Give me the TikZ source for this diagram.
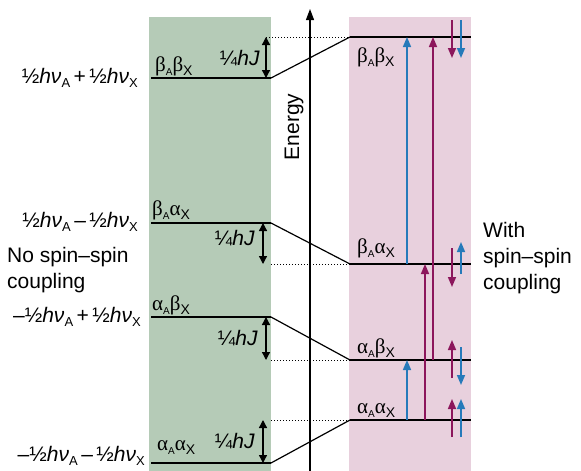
\documentclass[tikz,border=0pt]{standalone}
\usepackage{fontspec}
\setmainfont{Liberation Sans}
\newfontfamily\grk{Liberation Serif}
\usetikzlibrary{arrows.meta}

\definecolor{nocoupling}{RGB}{181,203,183}
\definecolor{withcoupling}{RGB}{232,208,221}
\definecolor{xblue}{RGB}{38,122,186}
\definecolor{apurple}{RGB}{140,22,92}

\newcommand{\spinpair}[2]{{\grk #1}\raisebox{-0.45ex}{\fontsize{10}{10}\selectfont A}{\grk #2}\raisebox{-0.4ex}{\fontsize{14}{14}\selectfont X}}
\newcommand{\hnu}[1]{\textit{hν}\raisebox{-0.45ex}{\fontsize{13}{13}\selectfont #1}}
\newcommand{\qhJ}{¼\textit{hJ}}

\begin{document}
\begin{tikzpicture}[x=1pt, y=-1pt,
        every node/.style={inner sep=0pt, font=\fontsize{21}{26}\selectfont},
        level/.style={line width=2.8pt},
        link/.style={line width=1.2pt},
        guide/.style={dotted, line width=1pt},
        gap/.style={{Triangle[length=8pt,width=8pt]}-{Triangle[length=8pt,width=8pt]}, line width=1.3pt},
        trans/.style={-{Triangle[length=10pt,width=8pt]}, line width=1.6pt},
        spinarrow/.style={-{Triangle[length=10pt,width=8pt]}, line width=1.6pt}]
        \useasboundingbox (0,0) rectangle (581,471);

        % Panele
        \fill[nocoupling] (149,17) rectangle (271,471);
        \fill[withcoupling] (349,17) rectangle (471,471);

        % Os energii
        \coordinate (e0) at (310,471);
        \coordinate (e1) at (310,9);
        \draw[-{Triangle[length=11pt,width=8pt]}, line width=1.2pt] (e0) -- (e1);
        \node[rotate=90] (energy) at (294,127) {Energy};

        % Poziomy: bez sprzezenia (L) i ze sprzezeniem (R)
        \foreach \name/\yl/\yr in {bb/78/37, ba/223/264, ab/317/360, aa/463/420}{
            \coordinate (\name L) at (271,\yl);
            \coordinate (\name R) at (350,\yr);
            \draw[level] (151,\yl) -- (\name L);
            \draw[level] (\name R) -- (471,\yr);
            \draw[link] (\name L) -- (\name R);
        }

        % Linie pomocnicze i przesuniecia 1/4 hJ
        \coordinate (g1) at (266,0);
        \coordinate (g2) at (263,0);
        \draw[guide] (g1 |- bbR) -- (bbR);
        \draw[guide] (baL |- baR) -- (baR);
        \draw[guide] (abL |- abR) -- (abR);
        \draw[guide] (aaL |- aaR) -- (aaR);
        \draw[gap] (g1 |- bbR) -- (g1 |- bbL);
        \draw[gap] (g2 |- baL) -- (g2 |- baR);
        \draw[gap] (g1 |- abL) -- (g1 |- abR);
        \draw[gap] (g2 |- aaR) -- (g2 |- aaL);
        \node[anchor=base east] (j1) at (260,65) {\qhJ};
        \node[anchor=base east] (j2) at (255,245) {\qhJ};
        \node[anchor=base east] (j3) at (258,345) {\qhJ};
        \node[anchor=base east] (j4) at (255,448) {\qhJ};

        % Etykiety stanow
        \node[anchor=base west] (bbl) at (155,71) {\spinpair{β}{β}};
        \node[anchor=base west] (bal) at (152,215) {\spinpair{β}{α}};
        \node[anchor=base west] (abl) at (152,310) {\spinpair{α}{β}};
        \node[anchor=base west] (aal) at (157,450) {\spinpair{α}{α}};
        \node[anchor=base west] (bbr) at (357,62) {\spinpair{β}{β}};
        \node[anchor=base west] (bar) at (357,253) {\spinpair{β}{α}};
        \node[anchor=base west] (abr) at (357,353) {\spinpair{α}{β}};
        \node[anchor=base west] (aar) at (357,413) {\spinpair{α}{α}};

        % Energie
        \node[anchor=base east] (E4) at (138,83) {½\hnu{A}\,+\,½\hnu{X}};
        \node[anchor=base east] (E3) at (138,227) {½\hnu{A}\,–\,½\hnu{X}};
        \node[anchor=base east] (E2) at (141,322) {–½\hnu{A}\,+\,½\hnu{X}};
        \node[anchor=base east] (E1) at (145,461) {–½\hnu{A}\,–\,½\hnu{X}};
        \node[anchor=base west, align=left] (nocoup) at (7,288) {No spin–spin\\coupling};
        \node[anchor=base west, align=left] (withcoup) at (483,289) {With\\spin–spin\\coupling};

        % Przejscia
        \coordinate (tx) at (407,0);
        \coordinate (ta1) at (425,0);
        \coordinate (ta2) at (433,0);
        \draw[trans, xblue] (tx |- baR) -- (tx |- bbR);
        \draw[trans, xblue] (tx |- aaR) -- (tx |- abR);
        \draw[trans, apurple] (ta1 |- aaR) -- (ta1 |- baR);
        \draw[trans, apurple] (ta2 |- abR) -- (ta2 |- bbR);

        % Spiny
        \draw[spinarrow, apurple] (452,20) -- (452,58);
        \draw[spinarrow, xblue] (461,20) -- (461,58);
        \draw[spinarrow, apurple] (452,248) -- (452,287);
        \draw[spinarrow, xblue] (461,274) -- (461,242);
        \draw[spinarrow, apurple] (452,378) -- (452,340);
        \draw[spinarrow, xblue] (461,347) -- (461,385);
        \draw[spinarrow, apurple] (452,437) -- (452,399);
        \draw[spinarrow, xblue] (461,437) -- (461,399);
    \end{tikzpicture}
\end{document}
